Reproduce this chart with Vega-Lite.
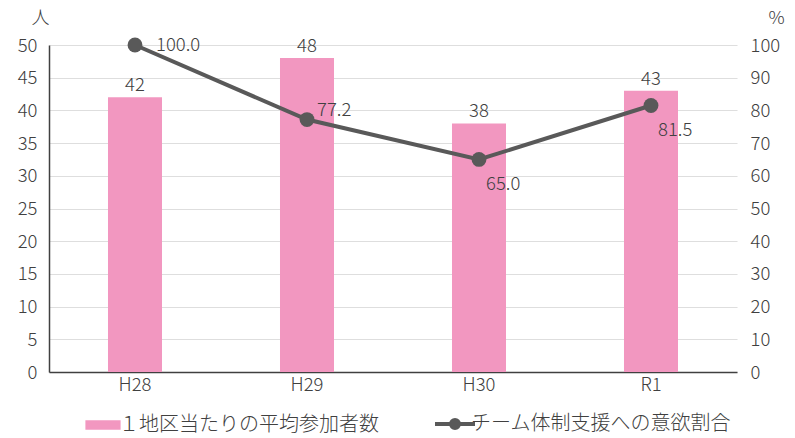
{
  "$schema": "https://vega.github.io/schema/vega-lite/v6.json",
  "width": 688,
  "height": 327,
  "autosize": "none",
  "padding": {"left": 49, "top": 45, "right": 58, "bottom": 66},
  "background": "white",
  "config": {
    "font": "Noto Sans CJK JP",
    "view": {"stroke": null},
    "text": {"font": "Noto Sans CJK JP", "fontSize": 18.5, "fontWeight": 300, "color": "#404040"}
  },
  "data": {
    "values": [
      {"year": "H28", "avg": 42, "rate": 100.0, "pos": "right"},
      {"year": "H29", "avg": 48, "rate": 77.2, "pos": "upright"},
      {"year": "H30", "avg": 38, "rate": 65.0, "pos": "below"},
      {"year": "R1", "avg": 43, "rate": 81.5, "pos": "below"}
    ]
  },
  "encoding": {
    "x": {
      "field": "year",
      "type": "nominal",
      "sort": null,
      "scale": {"paddingInner": 0.686, "paddingOuter": 0.343},
      "axis": {
        "title": null,
        "labelAngle": 0,
        "ticks": false,
        "labelPadding": 3,
        "labelFont": "Noto Sans CJK JP",
        "labelFontSize": 18.5,
        "labelFontWeight": 300,
        "labelColor": "#404040",
        "domainColor": "#404040",
        "domainWidth": 1.5,
        "grid": false
      }
    }
  },
  "layer": [
    {
      "encoding": {
        "y": {
          "field": "avg",
          "type": "quantitative",
          "scale": {"domain": [0, 50]},
          "axis": {
            "title": "人",
            "titleFont": "Noto Sans CJK JP",
            "titleFontSize": 18,
            "titleFontWeight": 300,
            "titleColor": "#404040",
            "titleAngle": 0,
            "titleAlign": "center",
            "titleBaseline": "middle",
            "titleX": -9,
            "titleY": -27,
            "values": [0, 5, 10, 15, 20, 25, 30, 35, 40, 45, 50],
            "labelOverlap": false,
            "labelFont": "Noto Sans CJK JP",
            "labelFontSize": 18.5,
            "labelFontWeight": 300,
            "labelColor": "#404040",
            "ticks": false,
            "labelPadding": 12,
            "domain": true,
            "domainColor": "#404040",
            "domainWidth": 1.5,
            "gridColor": "#DEDEDE",
            "gridWidth": 1.2
          }
        }
      },
      "layer": [
        {
          "mark": {"type": "bar", "color": "#F297C0"},
          "encoding": {
            "color": {
              "datum": "１地区当たりの平均参加者数",
              "type": "nominal",
              "scale": {
                "domain": ["１地区当たりの平均参加者数", "チーム体制支援への意欲割合"],
                "range": ["#F297C0", "#595959"]
              },
              "legend": {
                "title": null,
                "orient": "none",
                "legendX": 44,
                "legendY": 369,
                "direction": "horizontal",
                "labelFont": "Noto Sans CJK JP",
                "labelFontSize": 20,
                "labelFontWeight": 300,
                "labelColor": "#404040",
                "labelLimit": 400,
                "columnPadding": 48,
                "symbolSize": 1024,
                "labelOffset": 6,
                "encode": {
                  "symbols": {
                    "update": {
                      "shape": {"signal": "datum.value === 'チーム体制支援への意欲割合' ? 'M-1.25,0L1.25,0M-0.25,0A0.25,0.25 0 1,1 0.25,0A0.25,0.25 0 1,1 -0.25,0Z' : 'M-1.1,-0.3H1.1V0.3H-1.1Z'"},
                      "fill": {"signal": "datum.value === 'チーム体制支援への意欲割合' ? '#595959' : '#F297C0'"},
                      "stroke": {"signal": "datum.value === 'チーム体制支援への意欲割合' ? '#595959' : '#F297C0'"},
                      "strokeWidth": {"signal": "datum.value === 'チーム体制支援への意欲割合' ? 4 : 0"}
                    }
                  }
                }
              }
            }
          }
        },
        {
          "mark": {"type": "text", "baseline": "bottom", "dy": -2},
          "encoding": {
            "text": {"field": "avg", "type": "quantitative"}
          }
        }
      ]
    },
    {
      "encoding": {
        "y": {
          "field": "rate",
          "type": "quantitative",
          "scale": {"domain": [0, 100]},
          "axis": {
            "orient": "right",
            "title": "%",
            "titleFont": "Noto Sans CJK JP",
            "titleFontSize": 18,
            "titleFontWeight": 300,
            "titleColor": "#404040",
            "titleAngle": 0,
            "titleAlign": "center",
            "titleBaseline": "middle",
            "titleX": 39,
            "titleY": -27,
            "values": [0, 10, 20, 30, 40, 50, 60, 70, 80, 90, 100],
            "labelOverlap": false,
            "labelFont": "Noto Sans CJK JP",
            "labelFontSize": 18.5,
            "labelFontWeight": 300,
            "labelColor": "#404040",
            "ticks": false,
            "domain": false,
            "grid": false,
            "labelPadding": 13,
            "labelAlign": "left"
          }
        }
      },
      "layer": [
        {
          "mark": {"type": "line", "color": "#595959", "strokeWidth": 4},
          "encoding": {
            "color": {"datum": "チーム体制支援への意欲割合", "type": "nominal"}
          }
        },
        {
          "mark": {"type": "point", "filled": true, "opacity": 1, "size": 220, "color": "#595959"},
          "encoding": {}
        },
        {
          "transform": [{"filter": "datum.pos === 'right'"}],
          "mark": {"type": "text", "align": "left", "baseline": "middle", "dx": 21, "dy": 0},
          "encoding": {
            "text": {"field": "rate", "type": "quantitative", "format": ".1f"}
          }
        },
        {
          "transform": [{"filter": "datum.pos === 'upright'"}],
          "mark": {"type": "text", "align": "left", "baseline": "middle", "dx": 10, "dy": -10},
          "encoding": {
            "text": {"field": "rate", "type": "quantitative", "format": ".1f"}
          }
        },
        {
          "transform": [{"filter": "datum.pos === 'below'"}],
          "mark": {"type": "text", "align": "left", "baseline": "middle", "dx": 7, "dy": 25},
          "encoding": {
            "text": {"field": "rate", "type": "quantitative", "format": ".1f"}
          }
        }
      ]
    }
  ],
  "resolve": {"scale": {"y": "independent"}}
}
